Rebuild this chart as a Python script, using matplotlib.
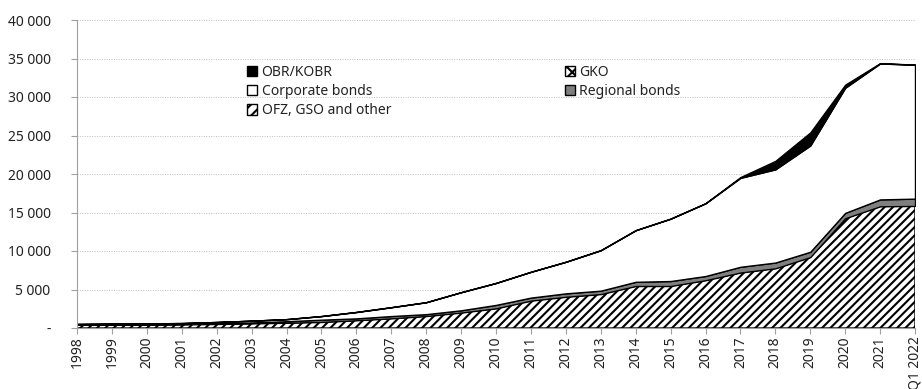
import matplotlib
matplotlib.use("Agg")
import matplotlib.pyplot as plt
from matplotlib.ticker import FuncFormatter, MultipleLocator
from matplotlib.patches import Patch

plt.rcParams['font.family'] = ['Noto Sans', 'DejaVu Sans']
plt.rcParams['hatch.linewidth'] = 1.5

years = [str(y) for y in range(1998, 2022)] + ["Q1 2022"]

ofz = [380, 420, 440, 460, 520, 600, 680, 780, 1000, 1250, 1550, 2000, 2550,
       3550, 4050, 4400, 5450, 5450, 6200, 7200, 7750, 9200, 14250, 15800, 15850]
gko = [60, 40, 20, 10, 0, 0, 0, 0, 0, 0, 0, 0, 0,
       0, 0, 0, 0, 0, 0, 0, 0, 0, 0, 0, 0]
regional = [30, 40, 50, 60, 80, 120, 200, 300, 250, 300, 250, 300, 450,
            400, 450, 450, 550, 650, 550, 750, 750, 700, 700, 900, 950]
corporate = [50, 60, 90, 110, 180, 230, 270, 470, 830, 1150, 1550, 2350, 2850,
             3350, 4100, 5250, 6700, 8100, 9450, 11550, 12100, 13800, 16250, 17650, 17400]
obr = [0, 0, 0, 0, 0, 0, 0, 0, 0, 0, 0, 0, 0,
       0, 0, 0, 0, 0, 0, 100, 1100, 1700, 400, 50, 0]

fig = plt.figure(figsize=(9.22, 3.89), dpi=100)
ax = fig.add_axes([77/922, 1-328/389, (915-77)/922, (328-20)/389])

x = list(range(len(years)))
polys = ax.stackplot(x, ofz, gko, regional, corporate, obr,
                     colors=['white', 'white', '#7f7f7f', 'white', 'black'],
                     edgecolor='black', linewidth=1.0)
polys[0].set_hatch('////')
polys[1].set_hatch('xxxx')

ax.set_xlim(0, len(years)-1)
ax.set_ylim(0, 40000)
ax.yaxis.set_major_locator(MultipleLocator(5000))

def fmt(v, pos):
    if v == 0:
        return '-'
    return f"{int(v):,}".replace(',', ' ')
ax.yaxis.set_major_formatter(FuncFormatter(fmt))

ax.set_xticks(x)
ax.set_xticklabels(years, rotation=90, fontsize=10, color='#222222')
ax.tick_params(axis='y', labelsize=10, colors='#222222', length=4, color='#a0a0a0', pad=15)
ax.tick_params(axis='x', length=4, color='#a0a0a0', pad=2)

ax.grid(axis='y', linestyle=(0, (1, 1.5)), color='#bdbdbd', linewidth=0.7)
ax.set_axisbelow(True)
for s in ['top', 'right']:
    ax.spines[s].set_visible(False)
for s in ['left', 'bottom']:
    ax.spines[s].set_color('#a0a0a0')
    ax.spines[s].set_linewidth(0.8)

handles = [
    Patch(facecolor='black', edgecolor='black', label='OBR/KOBR'),
    Patch(facecolor='white', edgecolor='black', label='Corporate bonds'),
    Patch(facecolor='white', edgecolor='black', hatch='///', label='OFZ, GSO and other'),
    Patch(facecolor='white', edgecolor='black', hatch='xxx', label='GKO'),
    Patch(facecolor='#7f7f7f', edgecolor='black', label='Regional bonds'),
]
leg = ax.legend(handles=handles, ncol=2, frameon=False, fontsize=10,
                loc='upper left', bbox_to_anchor=(240/922, 1-58/389),
                bbox_transform=fig.transFigure,
                handlelength=0.75, handleheight=0.75, handletextpad=0.3,
                labelspacing=0.3, columnspacing=12.5, borderpad=0)
for t in leg.get_texts():
    t.set_color('#222222')

fig.savefig('out.png', dpi=100)
